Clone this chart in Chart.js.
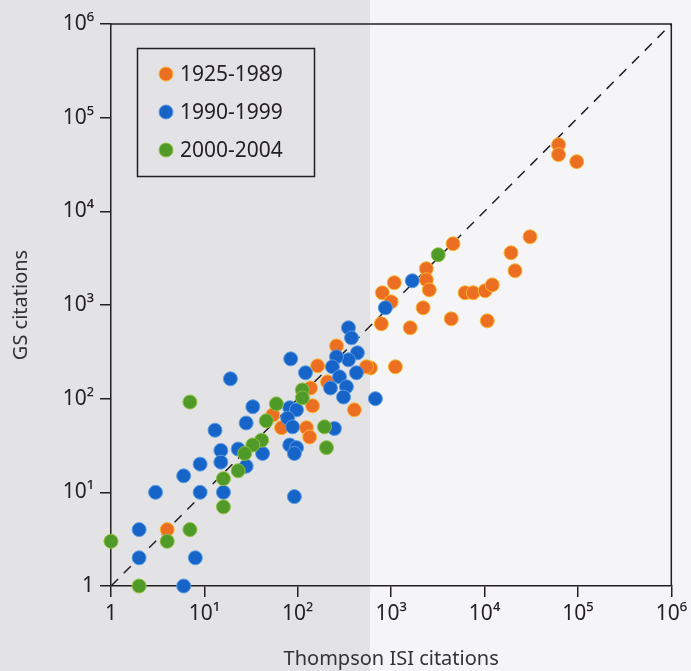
<!DOCTYPE html>
<html>
<head>
<meta charset="utf-8">
<script src="https://cdn.jsdelivr.net/npm/chart.js@4/dist/chart.umd.min.js"></script>
<style>
  html, body { margin: 0; padding: 0; }
  body {
    width: 691px; height: 671px; overflow: hidden;
    background: linear-gradient(to right, #e3e3e6 0px, #e3e3e6 370px, #f5f4f7 370px);
  }
</style>
</head>
<body>
<canvas id="chart_canvas" width="691" height="671"></canvas>
<script>
// Citations: Thompson ISI (x) vs Google Scholar (y), by publication period
const seriesNames = ['1925-1989', '1990-1999', '2000-2004'];

const isiOld = [62000, 62000, 97000, 30700, 19200, 21200, 4600, 2380, 2380, 2560, 1080, 805,
  1000, 785, 2200, 1600, 4400, 10700, 6200, 7550, 10150, 12100, 1110, 600, 260, 163, 543,
  208, 144, 404, 54, 67, 124, 134, 4, 137];
const gsOld = [51500, 40300, 33900, 5350, 3610, 2320, 4510, 2440, 1860, 1450, 1730, 1350,
  1080, 630, 933, 571, 712, 678, 1350, 1350, 1420, 1640, 219, 213, 366, 224, 219,
  151, 84, 76, 67, 49, 49, 39, 4, 130];

const isiMid = [1684, 867, 349, 376, 435, 349, 260, 84, 235, 425, 121, 280, 224, 332, 309,
  678, 33, 82, 97, 78, 88, 247, 19, 13, 28, 82, 97, 92, 42, 15, 15, 23, 28, 9, 6, 3, 9, 16,
  92, 2, 2, 8, 6];
const gsMid = [1814, 933, 571, 446, 309, 260, 280, 266, 219, 189, 189, 171, 130, 134, 104,
  100, 82, 80, 76, 62, 50, 48, 163, 46, 55, 32, 30, 26, 26, 28, 21, 29, 19, 20, 15, 10, 10, 10,
  9, 4, 2, 2, 1];

const isiNew = [3190, 112, 112, 59, 7, 46, 193, 41, 33, 27, 203, 23, 16, 16, 7, 1, 4, 2];
const gsNew = [3440, 124, 102, 88, 92, 58, 50, 36, 32, 26, 30, 17, 14, 7, 4, 3, 3, 1];

const tickValues = [1, 10, 100, 1000, 10000, 100000, 1000000];
const tickLabels = ['1', '10\u00b9', '10\u00b2', '10\u00b3', '10\u2074', '10\u2075', '10\u2076'];
const diagonal = [1, 1000000];

const fontFam = '"Noto Sans", "DejaVu Sans", sans-serif';
const ink = '#231f20';

function pts(xs, ys) {
  return xs.map((x, i) => ({ x: x, y: ys[i] }));
}

const frame = {
  id: 'frame',
  beforeDatasetsDraw(chart) {
    const a = chart.chartArea, c = chart.ctx;
    c.save();
    c.strokeStyle = ink;
    c.lineWidth = 1.5;
    c.beginPath();
    c.moveTo(a.left, a.top);
    c.lineTo(a.right, a.top);
    c.lineTo(a.right, a.bottom);
    c.stroke();
    c.restore();
  }
};

const boxLegend = {
  id: 'boxLegend',
  afterDraw(chart) {
    const c = chart.ctx;
    c.save();
    c.strokeStyle = ink;
    c.lineWidth = 1.5;
    c.strokeRect(137.5, 48.5, 177, 128);
    c.font = '21px ' + fontFam;
    c.textBaseline = 'middle';
    c.fillStyle = ink;
    seriesNames.forEach((name, i) => {
      const ds = chart.data.datasets[i];
      const y = 74 + i * 38;
      c.beginPath();
      c.arc(166, y, 7, 0, Math.PI * 2);
      c.fillStyle = ds.backgroundColor;
      c.fill();
      c.lineWidth = 1;
      c.strokeStyle = ds.borderColor;
      c.stroke();
      c.fillStyle = ink;
      c.fillText(name, 180, y + 1);
    });
    c.restore();
  }
};

function dotSet(label, data, fill, rim, order) {
  return {
    label: label, data: data, order: order,
    backgroundColor: fill, borderColor: rim, borderWidth: 1,
    pointRadius: 7, pointHoverRadius: 7, clip: false
  };
}

function axis(pos, title, size) {
  return {
    type: 'logarithmic', position: pos, min: 1, max: 1000000,
    afterBuildTicks: (s) => { s.ticks = tickValues.map(v => ({ value: v })); },
    afterFit: (s) => { if (pos === 'left') s.width = size; else s.height = size; },
    ticks: {
      autoSkip: false, maxRotation: 0, padding: pos === 'left' ? 6 : 4,
      color: ink, font: { family: fontFam, size: 21 },
      callback: (v) => tickLabels[Math.round(Math.log10(v))]
    },
    grid: { drawOnChartArea: false, drawTicks: true, tickLength: 11, color: ink, lineWidth: 1.5 },
    border: { display: true, color: ink, width: 1.5 },
    title: {
      display: true, text: title, color: '#333',
      font: { family: fontFam, size: 20 },
      padding: pos === 'left' ? { top: 9, bottom: 2 } : { top: 2, bottom: 0 }
    }
  };
}

let ctx = document.getElementById('chart_canvas');
new Chart(ctx, { // eslint-disable-line no-undef
  type: 'scatter',
  data: {
    datasets: [
      dotSet(seriesNames[0], pts(isiOld, gsOld), '#ec6e22', '#f7b630', 3),
      dotSet(seriesNames[1], pts(isiMid, gsMid), '#1764c8', '#5a9be0', 2),
      dotSet(seriesNames[2], pts(isiNew, gsNew), '#4f9a29', '#8fbf3e', 1),
      {
        type: 'line', label: 'y = x', order: 4,
        data: pts(diagonal, diagonal),
        borderColor: ink, borderWidth: 1.5, borderDash: [10, 8],
        pointRadius: 0, fill: false
      }
    ]
  },
  options: {
    responsive: false,
    animation: false,
    layout: { padding: { top: 24, right: 18, left: 0, bottom: 0 } },
    plugins: { legend: { display: false }, tooltip: { enabled: false } },
    scales: {
      x: axis('bottom', 'Thompson ISI citations', 85),
      y: axis('left', 'GS citations', 111)
    }
  },
  plugins: [frame, boxLegend]
});
</script>
</body>
</html>
